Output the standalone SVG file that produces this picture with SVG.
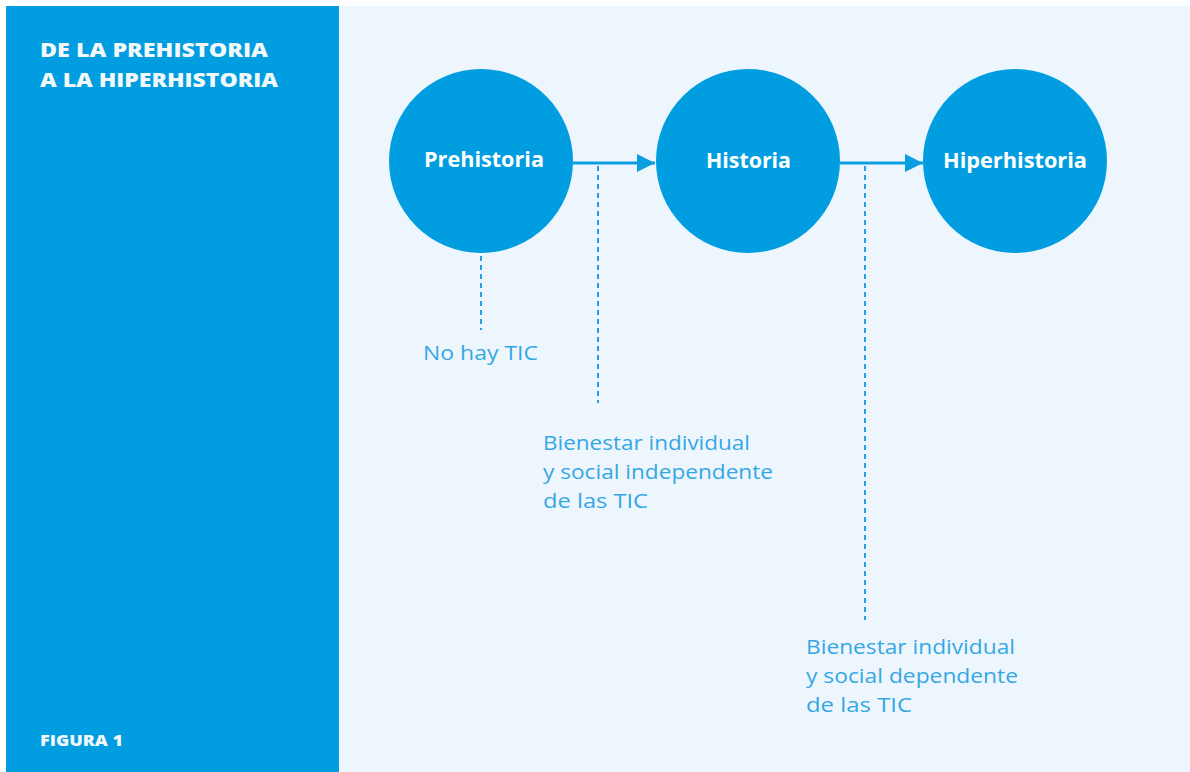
<svg xmlns="http://www.w3.org/2000/svg" width="1190" height="772" viewBox="0 0 1190 772">
<defs>
<style>
.title{font-family:"Open Sans","Liberation Sans",sans-serif;font-weight:800;fill:#f2f8fc;font-size:19.5px}
.fig{font-family:"Open Sans","Liberation Sans",sans-serif;font-weight:800;fill:#f2f8fc;font-size:15px}
.node circle{fill:#009ee0}
.node text{font-family:"Open Sans","Liberation Sans",sans-serif;font-weight:700;fill:#ffffff;font-size:20.5px}
.lbl{font-family:"Open Sans","Liberation Sans",sans-serif;font-weight:500;fill:#35a7e5;font-size:20.5px}
.arrow{stroke:#0a9ee0;stroke-width:3;fill:none}
.dash{stroke:#2a9fe0;stroke-width:2;stroke-dasharray:5 4;fill:none}
</style>
<marker id="ah" viewBox="0 0 10 10" refX="10" refY="5" markerWidth="6" markerHeight="6" markerUnits="strokeWidth" orient="auto">
<path d="M0,0 L10,5 L0,10 Z" fill="#0a9ee0"/>
</marker>
</defs>
<rect x="0" y="0" width="1190" height="772" fill="#ffffff"/>
<rect x="340" y="6" width="850" height="766" fill="#eef6fd"/>
<g id="panel">
<rect x="6" y="6" width="333" height="766" fill="#009ee0"/>
<text class="title" x="40" y="57" textLength="228" lengthAdjust="spacingAndGlyphs">DE LA PREHISTORIA</text>
<text class="title" x="40" y="87" textLength="238" lengthAdjust="spacingAndGlyphs">A LA HIPERHISTORIA</text>
<text class="fig" x="40" y="746" textLength="83" lengthAdjust="spacingAndGlyphs">FIGURA 1</text>
</g>
<g id="connectors">
<line class="arrow" x1="573" y1="163" x2="655" y2="163" marker-end="url(#ah)"/>
<line class="arrow" x1="840" y1="163" x2="923" y2="163" marker-end="url(#ah)"/>
<line class="dash" x1="481" y1="256" x2="481" y2="330"/>
<line class="dash" x1="598" y1="166" x2="598" y2="403"/>
<line class="dash" x1="865" y1="166" x2="865" y2="620"/>
</g>
<g id="prehistoria" class="node">
<circle cx="481" cy="161" r="92"/>
<text x="424" y="167" textLength="120" lengthAdjust="spacingAndGlyphs">Prehistoria</text>
</g>
<g id="historia" class="node">
<circle cx="748" cy="161" r="92"/>
<text x="706" y="168" textLength="85" lengthAdjust="spacingAndGlyphs">Historia</text>
</g>
<g id="hiperhistoria" class="node">
<circle cx="1015" cy="161" r="92"/>
<text x="943" y="168" textLength="144" lengthAdjust="spacingAndGlyphs">Hiperhistoria</text>
</g>
<g id="label-notic">
<text class="lbl" x="423" y="360" textLength="115" lengthAdjust="spacingAndGlyphs">No hay TIC</text>
</g>
<g id="label-independiente">
<text class="lbl" x="543" y="450" textLength="207" lengthAdjust="spacingAndGlyphs">Bienestar individual</text>
<text class="lbl" x="543" y="479" textLength="230" lengthAdjust="spacingAndGlyphs">y social independente</text>
<text class="lbl" x="543" y="508" textLength="105" lengthAdjust="spacingAndGlyphs">de las TIC</text>
</g>
<g id="label-dependiente">
<text class="lbl" x="806" y="654" textLength="209" lengthAdjust="spacingAndGlyphs">Bienestar individual</text>
<text class="lbl" x="806" y="683" textLength="212" lengthAdjust="spacingAndGlyphs">y social dependente</text>
<text class="lbl" x="806" y="712" textLength="106" lengthAdjust="spacingAndGlyphs">de las TIC</text>
</g>
</svg>
